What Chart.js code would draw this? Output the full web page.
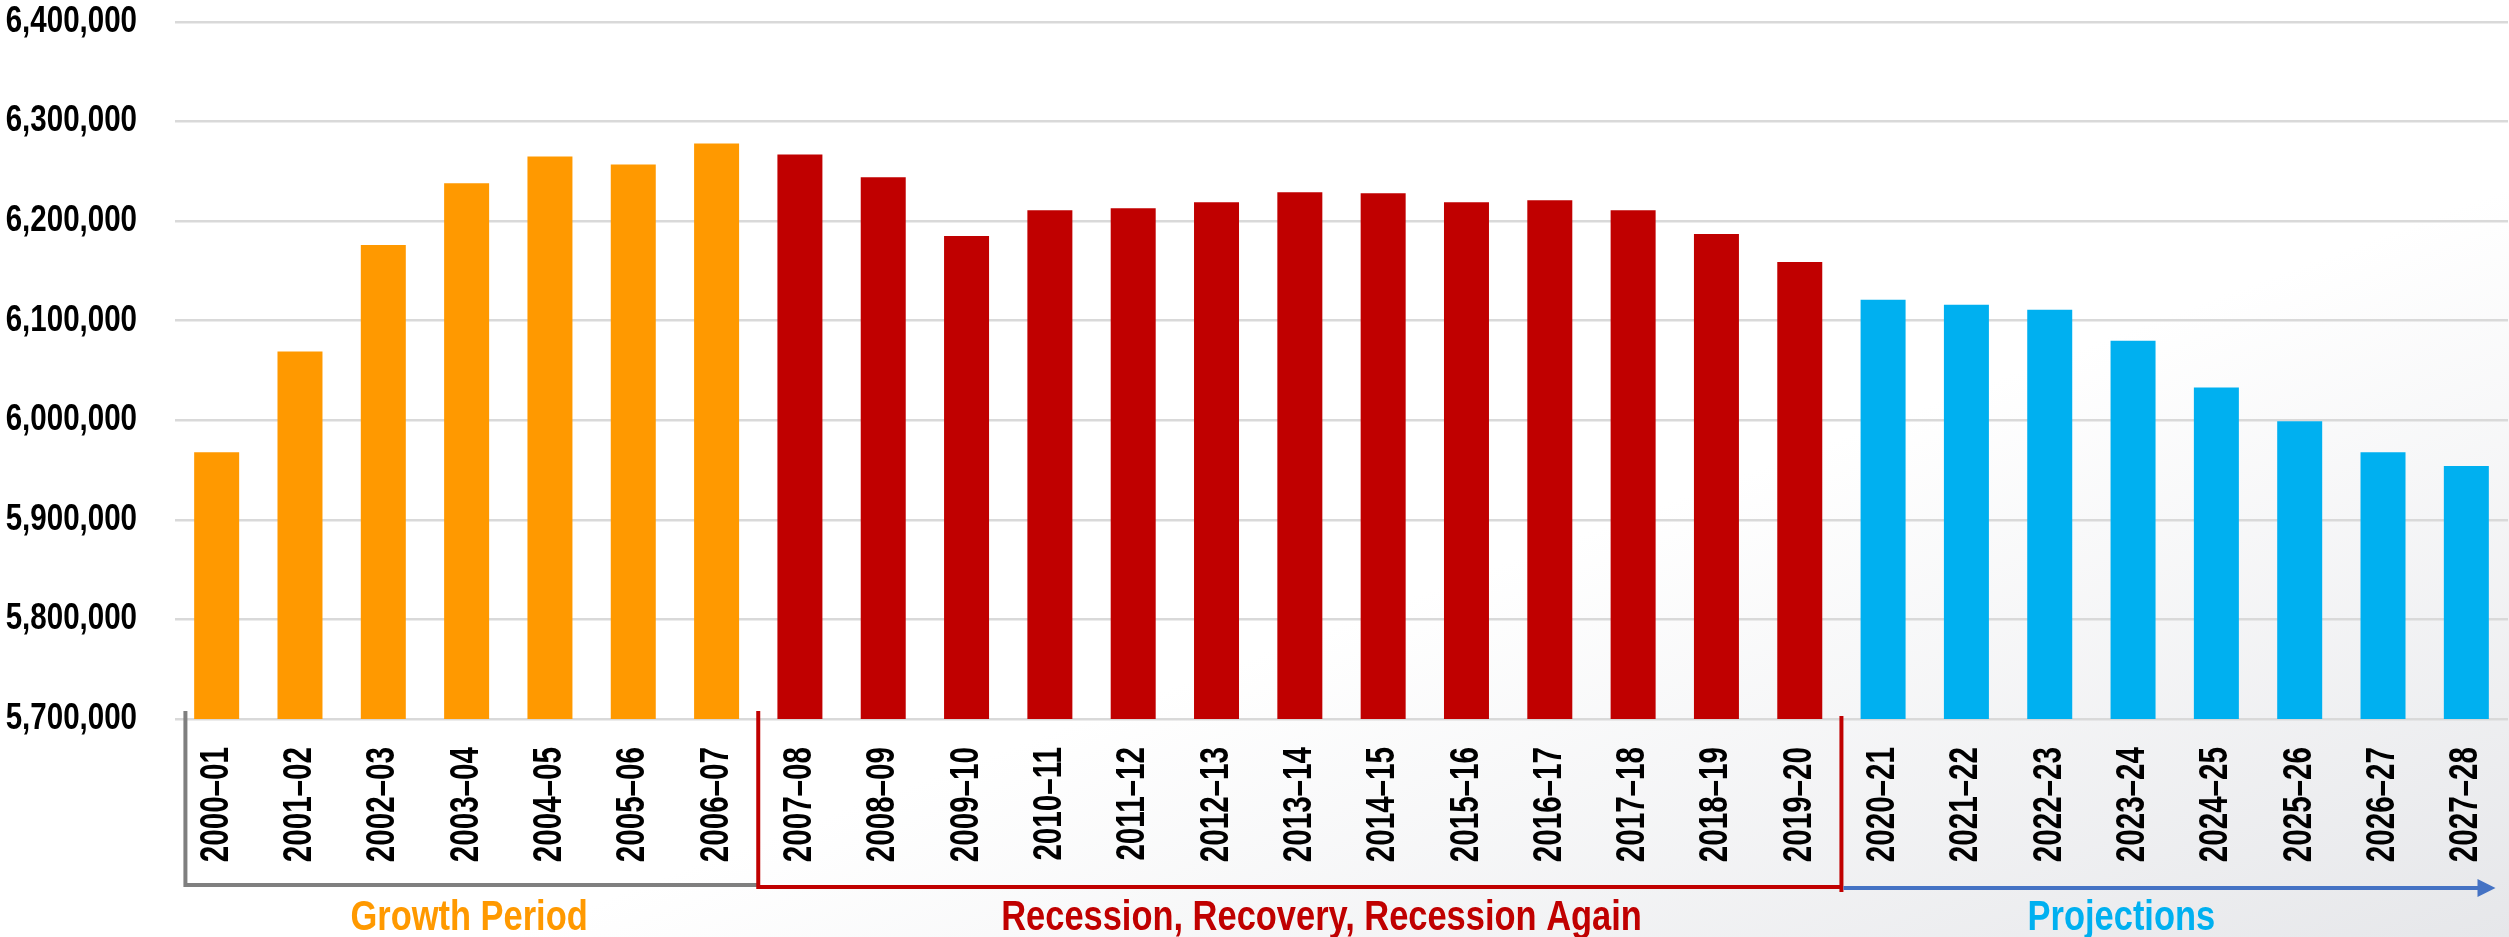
<!DOCTYPE html>
<html>
<head>
<meta charset="utf-8">
<script src="https://cdn.jsdelivr.net/npm/chart.js@4.4.1/dist/chart.umd.min.js"></script>
<style>
  html, body { margin: 0; padding: 0; }
  #wrap {
    width: 2509px;
    height: 937px;
    background: linear-gradient(to bottom right, #ffffff 60%, #e6e7ea 100%);
  }
  canvas { display: block; }
</style>
</head>
<body>
<div id="wrap"><canvas id="enrollment" width="2509" height="937"></canvas></div>
<script>
const years = [
  "2000–01", "2001–02", "2002–03", "2003–04", "2004–05", "2005–06", "2006–07",
  "2007–08", "2008–09", "2009–10", "2010–11", "2011–12", "2012–13", "2013–14",
  "2014–15", "2015–16", "2016–17", "2017–18", "2018–19", "2019–20",
  "2020–21", "2021–22", "2022–23", "2023–24", "2024–25", "2025–26", "2026–27", "2027–28",
];

const enrollment = [
  5968000, 6069000, 6176000, 6238000, 6265000, 6257000, 6278000,
  6267000, 6244000, 6185000, 6211000, 6213000, 6219000, 6229000,
  6228000, 6219000, 6221000, 6211000, 6187000, 6159000,
  6121000, 6116000, 6111000, 6080000, 6033000, 5999000, 5968000, 5954000,
];

// periods: label and index of the first year in each
const periodNames = ["Growth Period", "Recession, Recovery, Recession Again", "Projections"];
const periodStarts = [0, 7, 20];

const yTicks = [5700000, 5800000, 5900000, 6000000, 6100000, 6200000, 6300000, 6400000];

const periodColors = ["#FF9900", "#C00000", "#00B0F0"];
const bracketColors = ["#7F7F7F", "#C00000", "#4472C4"];

// no narrow face installed, so bold sans gets squeezed horizontally instead
const FONT = "'Liberation Sans', Arial, sans-serif";

function periodOf(i) {
  let p = 0;
  periodStarts.forEach((s, k) => { if (i >= s) p = k; });
  return p;
}

const barColors = years.map((_, i) => periodColors[periodOf(i)]);

function narrowText(ctx, text, x, y, { size, squeeze, rotate = 0, align = "left", baseline = "middle", color = "#000" }) {
  ctx.save();
  ctx.translate(x, y);
  if (rotate) ctx.rotate(rotate);
  ctx.scale(squeeze, 1);
  ctx.font = `bold ${size}px ${FONT}`;
  ctx.textAlign = align;
  ctx.textBaseline = baseline;
  ctx.fillStyle = color;
  ctx.fillText(text, 0, 0);
  ctx.restore();
}

// axis labels, drawn at the scale positions
const narrowTicks = {
  id: "narrowTicks",
  afterDraw(chart) {
    const { ctx } = chart;
    const x = chart.scales.x;
    const y = chart.scales.y;

    yTicks.forEach((v) => {
      narrowText(ctx, v.toLocaleString("en-US"), y.right - 38, y.getPixelForValue(v), {
        size: 36, squeeze: 0.82, align: "right",
      });
    });

    years.forEach((label, i) => {
      narrowText(ctx, label, x.getPixelForValue(i), x.top + 28, {
        size: 40, squeeze: 0.74, rotate: -Math.PI / 2, align: "right",
      });
    });
  },
};

// brackets under the axis labels and the period names
const periodBrackets = {
  id: "periodBrackets",
  afterDraw(chart) {
    const { ctx } = chart;
    const x = chart.scales.x;
    const top = 711;
    const lineY = 886;
    const b0 = x.getPixelForValue(-0.375);
    const b1 = x.getPixelForValue(periodStarts[1] - 0.5);
    const b2 = x.getPixelForValue(periodStarts[2] - 0.5);
    const tip = x.getPixelForValue(years.length - 1 + 0.35);

    ctx.save();
    ctx.lineWidth = 4;
    ctx.lineCap = "butt";

    ctx.strokeStyle = bracketColors[0];
    ctx.beginPath();
    ctx.moveTo(b0, top);
    ctx.lineTo(b0, lineY - 1);
    ctx.lineTo(b1, lineY - 1);
    ctx.stroke();

    ctx.strokeStyle = bracketColors[1];
    ctx.beginPath();
    ctx.moveTo(b1, top);
    ctx.lineTo(b1, lineY + 1);
    ctx.lineTo(b2, lineY + 1);
    ctx.stroke();
    ctx.beginPath();
    ctx.moveTo(b2, top + 5);
    ctx.lineTo(b2, lineY + 6);
    ctx.stroke();

    ctx.strokeStyle = bracketColors[2];
    ctx.fillStyle = bracketColors[2];
    ctx.beginPath();
    ctx.moveTo(b2 + 2, lineY + 2);
    ctx.lineTo(tip - 14, lineY + 2);
    ctx.stroke();
    ctx.beginPath();
    ctx.moveTo(tip, lineY + 2);
    ctx.lineTo(tip - 18, lineY + 2 - 9);
    ctx.lineTo(tip - 18, lineY + 2 + 9);
    ctx.closePath();
    ctx.fill();
    ctx.restore();

    // period names
    const centers = [3.03, 13.26, 22.86];
    periodNames.forEach((name, k) => {
      narrowText(ctx, name, x.getPixelForValue(centers[k]), 930, {
        size: 42, squeeze: 0.82, align: "center", baseline: "alphabetic", color: periodColors[k],
      });
    });
  },
};

new Chart(document.getElementById("enrollment"), {
  type: "bar",
  data: {
    labels: years,
    datasets: [
      {
        data: enrollment,
        backgroundColor: barColors,
        borderWidth: 0,
        barPercentage: 0.54,
        categoryPercentage: 1,
      },
    ],
  },
  options: {
    responsive: false,
    animation: false,
    layout: { padding: { top: 22, right: 1, left: 0, bottom: 0 } },
    plugins: {
      legend: { display: false },
      tooltip: { enabled: false },
    },
    scales: {
      x: {
        grid: { display: false, drawTicks: false },
        border: { display: false },
        ticks: { display: false, autoSkip: false },
        afterFit(scale) {
          scale.height = 218;
          scale.paddingLeft = 0;
          scale.paddingRight = 0;
        },
      },
      y: {
        min: yTicks[0],
        max: yTicks[yTicks.length - 1],
        afterBuildTicks(scale) {
          scale.ticks = yTicks.map((v) => ({ value: v }));
        },
        grid: { color: "#D9D9D9", lineWidth: 2.5, drawTicks: false },
        border: { display: false },
        ticks: { display: false },
        afterFit(scale) {
          scale.width = 175;
          scale.paddingTop = 0;
          scale.paddingBottom = 0;
        },
      },
    },
  },
  plugins: [narrowTicks, periodBrackets],
});
</script>
</body>
</html>
